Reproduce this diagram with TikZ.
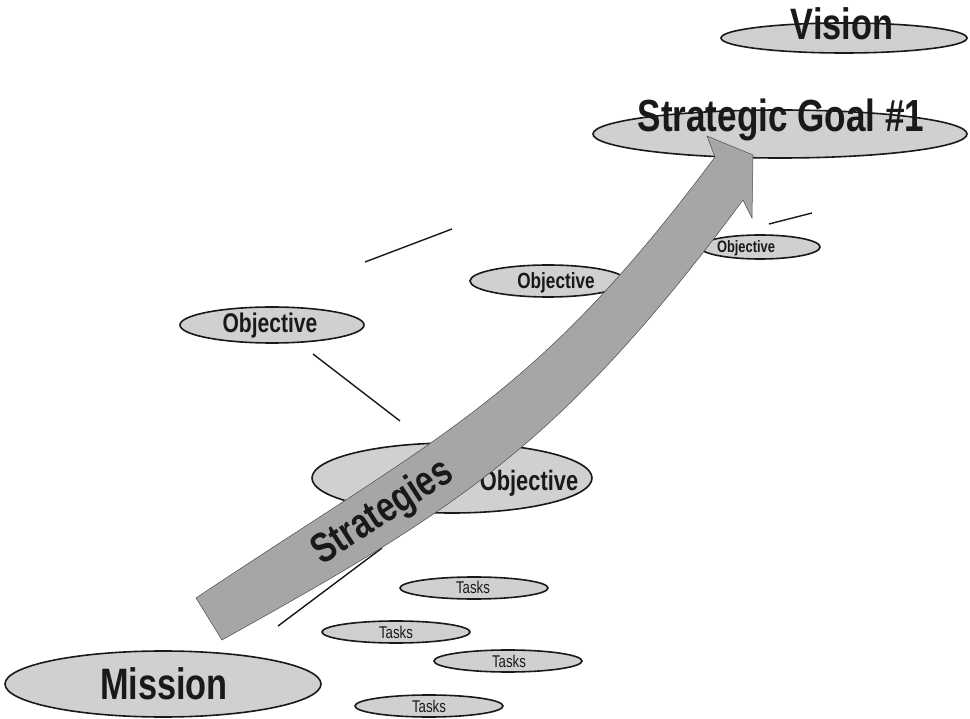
\documentclass[tikz,border=0pt]{standalone}
\usepackage{fontspec}
\newfontfamily\nar{Liberation Sans}[FakeStretch=0.78]
\usetikzlibrary{shapes.geometric}
\definecolor{ovalgray}{RGB}{208,208,208}
\definecolor{arrowgray}{RGB}{166,166,166}
\definecolor{inkblack}{RGB}{25,25,25}
\tikzset{
  oval/.style={ellipse, draw=inkblack, fill=ovalgray, line width=1.6pt, inner sep=0pt},
  lbl/.style={anchor=base, inner sep=0pt, text=inkblack},
  thinline/.style={draw=inkblack, line width=1.4pt},
}
\newcommand{\fsz}[1]{\nar\bfseries\fontsize{#1}{#1}\selectfont}
\newcommand{\fszr}[1]{\nar\fontsize{#1}{#1}\selectfont}
\begin{document}
\begin{tikzpicture}[x=1pt,y=-1pt]
\useasboundingbox (0,0) rectangle (970,719);
% ovals
\node[oval, minimum width=246, minimum height=30] (vision) at (844,38) {};
\node[oval, minimum width=374, minimum height=48] (goal) at (780,134) {};
\node[oval, minimum width=120, minimum height=24] (objR) at (760,247) {};
\node[oval, minimum width=156, minimum height=32] (objM) at (548,281) {};
\node[oval, minimum width=184, minimum height=36] (objL) at (272,325) {};
\node[oval, minimum width=280, minimum height=70] (objB) at (452,478) {};
\node[oval, minimum width=316, minimum height=66] (mission) at (163,684) {};
\node[oval, minimum width=148, minimum height=22] (task1) at (474,588) {};
\node[oval, minimum width=148, minimum height=22] (task2) at (396,632) {};
\node[oval, minimum width=148, minimum height=22] (task3) at (508,661) {};
\node[oval, minimum width=148, minimum height=22] (task4) at (429,706) {};
% loose lines
\coordinate (l1a) at (769,224); \coordinate (l1b) at (812,213);
\coordinate (l2a) at (365,262); \coordinate (l2b) at (452,229);
\coordinate (l3a) at (313,354); \coordinate (l3b) at (400,421);
\coordinate (l4a) at (278,626); \coordinate (l4b) at (382,548);
\draw[thinline] (l1a) -- (l1b);
\draw[thinline] (l2a) -- (l2b);
\draw[thinline] (l3a) -- (l3b);
\draw[thinline] (l4a) -- (l4b);
% texts
\node[lbl, font=\fsz{44}] (visiontxt) at (842,40) {Vision};
\node[lbl, font=\fsz{45}] (goaltxt) at (781,132) {Strategic Goal \#1};
\node[lbl, font=\fsz{16.5}] (objRtxt) at (746,253) {Objective};
\node[lbl, font=\fsz{22}] (objMtxt) at (556,289) {Objective};
\node[lbl, font=\fsz{27}] (objLtxt) at (270,333) {Objective};
\node[lbl, font=\fsz{28}] (objBtxt) at (529,490) {Objective};
\node[lbl, font=\fsz{44}] (missiontxt) at (164,699) {Mission};
\node[lbl, font=\fszr{17}] (task1txt) at (473,593) {Tasks};
\node[lbl, font=\fszr{17}] (task2txt) at (396,638) {Tasks};
\node[lbl, font=\fszr{17}] (task3txt) at (509,667) {Tasks};
\node[lbl, font=\fszr{17}] (task4txt) at (429,712) {Tasks};
% big curved arrow
\coordinate (tailL) at (196,598);
\coordinate (tailR) at (222,640);
\coordinate (neckL) at (715,157);
\coordinate (barbL) at (707,136);
\coordinate (tip) at (753,155);
\coordinate (barbR) at (752,218);
\coordinate (neckR) at (743,200);
\fill[arrowgray, draw=black!70, line width=0.5pt]
  (tailL) .. controls (446,431) and (535,398) .. (neckL)
  -- (barbL) -- (tip) -- (barbR) -- (neckR)
  .. controls (560,447) and (455,510) .. (tailR) -- cycle;
\node[lbl, anchor=center, rotate=33, font=\fsz{42}] (strat) at (383,513) {Strategies};
\end{tikzpicture}
\end{document}
